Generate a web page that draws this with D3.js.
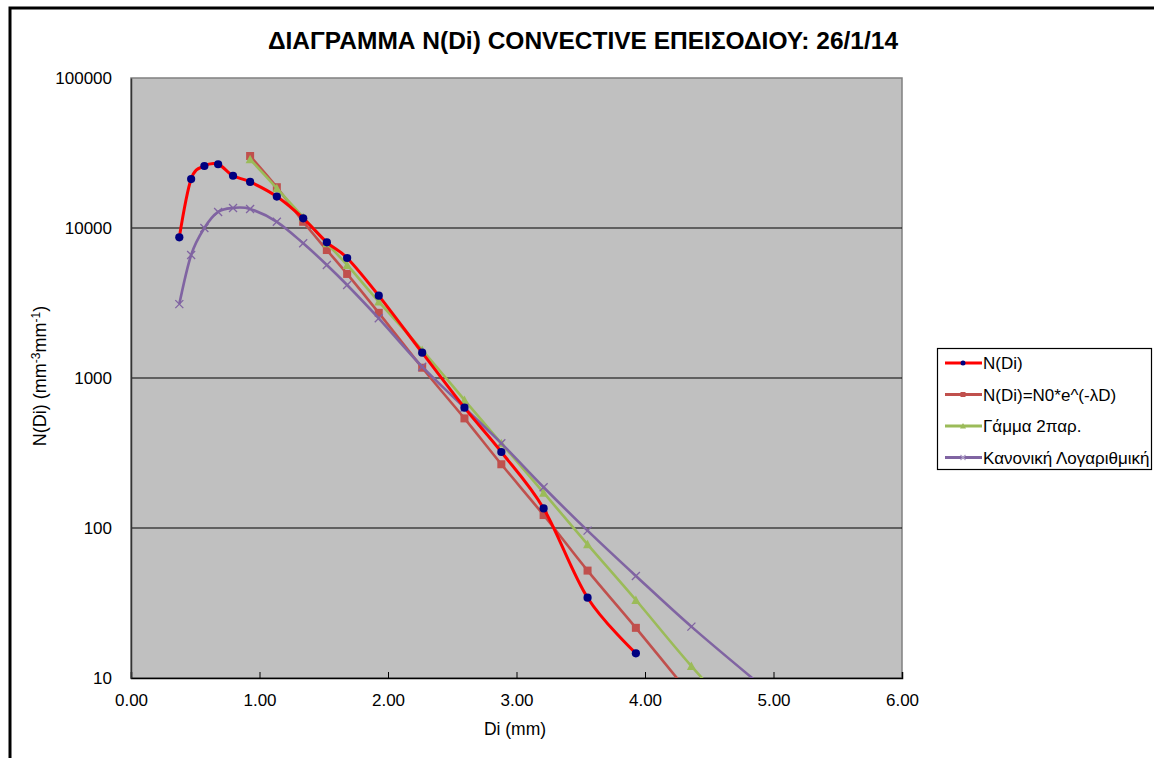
<!DOCTYPE html>
<html>
<head>
<meta charset="utf-8">
<script src="https://cdn.jsdelivr.net/npm/d3@7"></script>
<style>
  body { margin: 0; background: #fff; }
  text { font-family: "Liberation Sans", Arial, sans-serif; }
</style>
</head>
<body>
<div id="chart"></div>
<script>
(function() {

  var width = 1154,
      height = 758

  // drop diameter classes (mm)
  var diameters = [0.376, 0.468, 0.571, 0.678, 0.794, 0.927, 1.135, 1.340, 1.524, 1.682,
                   1.928, 2.266, 2.595, 2.882, 3.211, 3.553, 3.929, 4.361, 4.859]

  var seriesNames = ["N(Di)", "N(Di)=N0*e^(-λD)", "Γάμμα 2παρ.", "Κανονική Λογαριθμική"]

  var measured = [8670, 21200, 25900, 26600, 22300, 20300, 16200, 11600, 8030, 6310,
                  3540, 1475, 634, 321, 135, 34.3, 14.6, null, null]
  var exponential = [null, null, null, null, null, 30200, 18700, 11000, 7130, 4940,
                     2720, 1171, 538, 266, 122, 52, 21.6, 7.6, null]
  var gamma = [null, null, null, null, null, 28700, 18400, 11800, 7910, 5670,
               3230, 1537, 713, 367, 172, 77.8, 33.1, 12.0, 4.1]
  var lognormal = [3110, 6610, 10000, 12800, 13600, 13400, 11000, 7910, 5670, 4170,
                   2500, 1190, 634, 367, 187, 96, 47.9, 22, 9.6]

  var xTicks = [0, 1, 2, 3, 4, 5, 6]
  var yTicks = [10, 100, 1000, 10000, 100000]

  var plot = { left: 131, top: 78, right: 902, bottom: 678 }

  var svg = d3.select("#chart")
    .append("svg")
    .attr("width", width)
    .attr("height", height)

  // outer frame
  svg.append("rect")
    .attr("x", 10).attr("y", 8)
    .attr("width", width + 20).attr("height", height + 20)
    .attr("fill", "none")
    .attr("stroke", "#000")
    .attr("stroke-width", 3)

  var xScale = d3.scaleLinear().domain([0, 6]).range([plot.left, plot.right])
  var yScale = d3.scaleLog().domain([10, 100000]).range([plot.bottom, plot.top])

  svg.append("rect")
    .attr("x", plot.left).attr("y", plot.top)
    .attr("width", plot.right - plot.left).attr("height", plot.bottom - plot.top)
    .attr("fill", "#c0c0c0")
    .attr("stroke", "#808080")
    .attr("stroke-width", 1.5)

  // horizontal grid lines
  svg.selectAll(".grid")
    .data(yTicks.filter(function(d) { return d > 10 && d < 100000 }))
    .enter().append("line")
    .attr("x1", plot.left).attr("x2", plot.right)
    .attr("y1", function(d) { return yScale(d) })
    .attr("y2", function(d) { return yScale(d) })
    .attr("stroke", "#000")
    .attr("stroke-width", 1.2)

  // axes
  var xAxis = svg.append("g")
    .attr("transform", "translate(0," + plot.bottom + ")")
    .call(d3.axisBottom(xScale).tickValues(xTicks).tickSize(-6).tickPadding(16)
      .tickFormat(d3.format(".2f")))
  xAxis.select(".domain").attr("stroke", "#000").attr("stroke-width", 1.5)
  xAxis.selectAll("text").attr("font-size", 17).attr("fill", "#000")

  var yAxis = svg.append("g")
    .attr("transform", "translate(" + plot.left + ",0)")
    .call(d3.axisLeft(yScale).tickValues(yTicks).tickSize(0).tickPadding(19)
      .tickFormat(d3.format("d")))
  yAxis.select(".domain").attr("stroke", "#333").attr("stroke-width", 1.5)
  yAxis.selectAll("text").attr("font-size", 17).attr("fill", "#000")

  // title and axis labels
  svg.append("text")
    .attr("x", 583).attr("y", 49)
    .attr("text-anchor", "middle")
    .attr("font-size", 24.5).attr("font-weight", "bold")
    .text("ΔΙΑΓΡΑΜΜΑ N(Di) CONVECTIVE ΕΠΕΙΣΟΔΙΟΥ: 26/1/14")

  svg.append("text")
    .attr("x", 515).attr("y", 735)
    .attr("text-anchor", "middle")
    .attr("font-size", 17.5)
    .text("Di (mm)")

  var yLabel = svg.append("text")
    .attr("transform", "translate(46,376) rotate(-90)")
    .attr("text-anchor", "middle")
    .attr("font-size", 18)
  yLabel.append("tspan").text("N(Di) (mm")
  yLabel.append("tspan").attr("font-size", 12).attr("dy", -6).text("-3")
  yLabel.append("tspan").attr("dy", 6).text("mm")
  yLabel.append("tspan").attr("font-size", 12).attr("dy", -6).text("-1")
  yLabel.append("tspan").attr("dy", 6).text(")")

  svg.append("clipPath").attr("id", "plot-clip")
    .append("rect")
    .attr("x", plot.left).attr("y", plot.top)
    .attr("width", plot.right - plot.left).attr("height", plot.bottom - plot.top)

  var series = [
    { name: seriesNames[0], values: measured, color: "#ff0000", marker: "dot" },
    { name: seriesNames[1], values: exponential, color: "#c0504d", marker: "square" },
    { name: seriesNames[2], values: gamma, color: "#9bbb59", marker: "triangle" },
    { name: seriesNames[3], values: lognormal, color: "#8064a2", marker: "cross" }
  ]

  var line = d3.line()
    .defined(function(d) { return d.v != null })
    .x(function(d) { return xScale(d.x) })
    .y(function(d) { return yScale(d.v) })
    .curve(d3.curveCardinal.tension(0))

  function drawMarker(g, s, x, y) {
    if (s.marker == "dot") {
      g.append("circle").attr("cx", x).attr("cy", y).attr("r", 4.1).attr("fill", "#000080")
    } else if (s.marker == "square") {
      g.append("rect").attr("x", x - 4).attr("y", y - 4).attr("width", 8).attr("height", 8)
        .attr("fill", s.color)
    } else if (s.marker == "triangle") {
      g.append("path").attr("d", "M" + x + "," + (y - 4.5) + "L" + (x + 4.5) + "," + (y + 4) + "L" + (x - 4.5) + "," + (y + 4) + "Z")
        .attr("fill", s.color)
    } else {
      g.append("path").attr("d", "M" + (x - 4) + "," + (y - 4) + "L" + (x + 4) + "," + (y + 4) +
          "M" + (x + 4) + "," + (y - 4) + "L" + (x - 4) + "," + (y + 4))
        .attr("stroke", s.color).attr("stroke-width", 1.3)
    }
  }

  var drawOrder = [1, 2, 3, 0]
  var plotG = svg.append("g").attr("clip-path", "url(#plot-clip)")

  drawOrder.forEach(function(i) {
    var s = series[i]
    var pts = diameters.map(function(x, j) { return { x: x, v: s.values[j] } })
    plotG.append("path")
      .datum(pts)
      .attr("d", line)
      .attr("fill", "none")
      .attr("stroke", s.color)
      .attr("stroke-width", i == 0 ? 3 : 2.6)
    pts.forEach(function(p) {
      if (p.v == null) return
      var py = yScale(p.v)
      if (py > plot.bottom || py < plot.top) return
      drawMarker(plotG, s, xScale(p.x), py)
    })
  })

  // legend
  var legend = svg.append("g")
  legend.append("rect")
    .attr("x", 937.5).attr("y", 348.5)
    .attr("width", 214).attr("height", 121)
    .attr("fill", "#fff")
    .attr("stroke", "#000")
    .attr("stroke-width", 1.2)

  series.forEach(function(s, i) {
    var ly = 363 + i * 31.5
    legend.append("line")
      .attr("x1", 945).attr("x2", 982)
      .attr("y1", ly).attr("y2", ly)
      .attr("stroke", s.color).attr("stroke-width", 3)
    if (s.marker == "dot") {
      legend.append("circle").attr("cx", 963).attr("cy", ly).attr("r", 2.5).attr("fill", "#000080")
    } else if (s.marker == "square") {
      legend.append("rect").attr("x", 960.5).attr("y", ly - 2.5).attr("width", 5).attr("height", 5).attr("fill", s.color)
    } else if (s.marker == "triangle") {
      legend.append("path").attr("d", "M963," + (ly - 3) + "L966," + (ly + 2.5) + "L960," + (ly + 2.5) + "Z").attr("fill", s.color)
    } else {
      legend.append("path").attr("d", "M960.5," + (ly - 2.5) + "L965.5," + (ly + 2.5) + "M965.5," + (ly - 2.5) + "L960.5," + (ly + 2.5))
        .attr("stroke", "#b0a0c8").attr("stroke-width", 1.2)
    }
    legend.append("text")
      .attr("x", 983).attr("y", ly + 6)
      .attr("font-size", 17)
      .text(s.name)
  })
})()
</script>
</body>
</html>
